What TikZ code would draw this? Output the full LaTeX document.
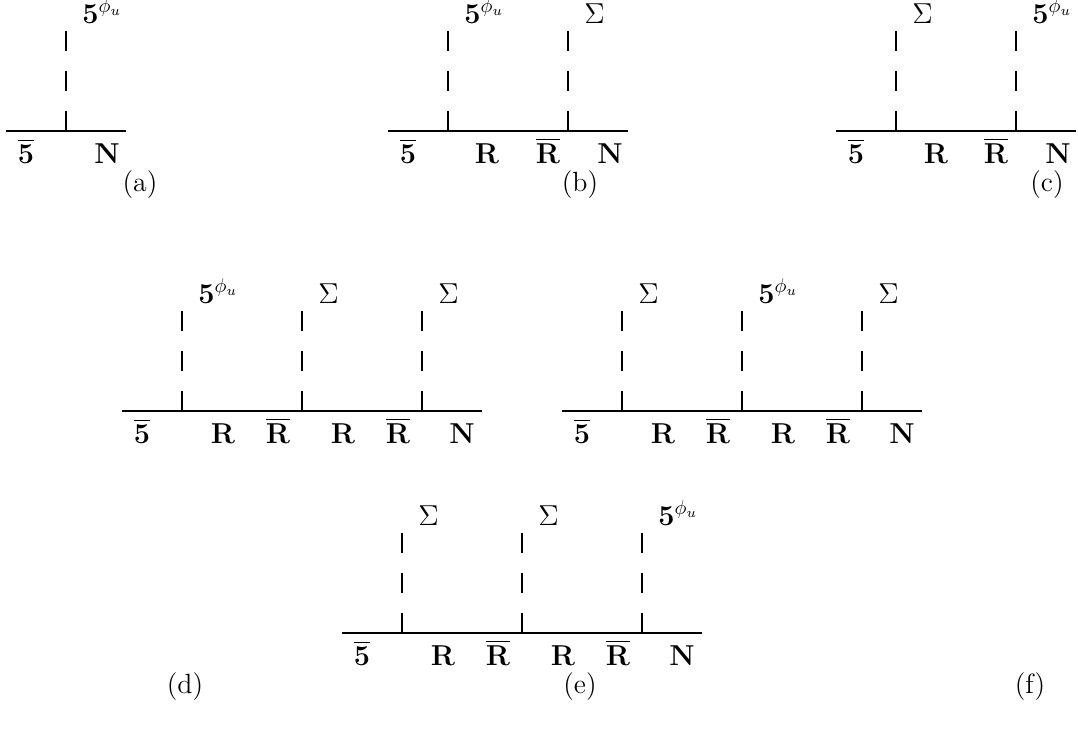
\documentclass[tikz,border=0pt]{standalone}
\usepackage{amsmath}
\begin{document}
\begin{tikzpicture}[x=0.5pt, y=-0.5pt, font=\fontsize{13.9}{16}\selectfont, line cap=butt,
  fermion/.style={line width=0.9pt},
  scalar/.style={line width=0.9pt, dash pattern=on 10pt off 10pt},
  ext/.style={anchor=base west, inner sep=0pt},
  lab/.style={anchor=base, inner sep=0pt},
  subcap/.style={inner sep=0pt}]
\useasboundingbox (0,0) rectangle (1078,734);

% (a) one insertion
\coordinate (a0) at (6,131);
\coordinate (a1) at (66,131);
\coordinate (a2) at (126,131);
\coordinate (at1) at (66,31);
\draw[fermion] (a0) -- (a1) -- (a2);
\draw[scalar] (a1) -- (at1);
\node[ext] (al1) at ([shift={(16,-8)}]at1) {$\mathbf{5}^{\phi_u}$};
\node[lab] (ab0) at (26,163) {$\overline{\mathbf{5}}$};
\node[lab] (ab1) at (107,163) {$\mathbf{N}$};
\node[subcap] (acap) at (140,185) {(a)};

% (b) two insertions
\coordinate (b0) at (388,131);
\coordinate (b3) at (628,131);
\foreach \n/\x/\t in {1/448/{\mathbf{5}^{\phi_u}},2/568/\Sigma} {
  \coordinate (b\n) at (\x,131);
  \coordinate (bt\n) at (\x,31);
  \draw[scalar] (b\n) -- (bt\n);
  \node[ext] (bl\n) at ([shift={(16,-8)}]bt\n) {$\t$};
}
\draw[fermion] (b0) -- (b1) -- (b2) -- (b3);
\foreach \n/\x/\t in {0/408/\overline{\mathbf{5}},1/487/\mathbf{R},2/548/\overline{\mathbf{R}},3/610/\mathbf{N}}
  \node[lab] (bb\n) at (\x,163) {$\t$};
\node[subcap] (bcap) at (580,185) {(b)};

% (c)
\coordinate (c0) at (836,131);
\coordinate (c3) at (1076,131);
\foreach \n/\x/\t in {1/896/\Sigma,2/1016/{\mathbf{5}^{\phi_u}}} {
  \coordinate (c\n) at (\x,131);
  \coordinate (ct\n) at (\x,31);
  \draw[scalar] (c\n) -- (ct\n);
  \node[ext] (cl\n) at ([shift={(16,-8)}]ct\n) {$\t$};
}
\draw[fermion] (c0) -- (c1) -- (c2) -- (c3);
\foreach \n/\x/\t in {0/856/\overline{\mathbf{5}},1/936/\mathbf{R},2/996/\overline{\mathbf{R}},3/1058/\mathbf{N}}
  \node[lab] (cb\n) at (\x,163) {$\t$};
\node[subcap] (ccap) at (1047,185) {(c)};

% (d) three insertions
\coordinate (d0) at (122,411);
\coordinate (d4) at (482,411);
\foreach \n/\x/\t in {1/182/{\mathbf{5}^{\phi_u}},2/302/\Sigma,3/422/\Sigma} {
  \coordinate (d\n) at (\x,411);
  \coordinate (dt\n) at (\x,311);
  \draw[scalar] (d\n) -- (dt\n);
  \node[ext] (dl\n) at ([shift={(16,-8)}]dt\n) {$\t$};
}
\draw[fermion] (d0) -- (d1) -- (d2) -- (d3) -- (d4);
\foreach \n/\x/\t in {0/142/\overline{\mathbf{5}},1/223/\mathbf{R},2/278/\overline{\mathbf{R}},3/343/\mathbf{R},4/398/\overline{\mathbf{R}},5/462/\mathbf{N}}
  \node[lab] (db\n) at (\x,443) {$\t$};

% (e)
\coordinate (e0) at (562,411);
\coordinate (e4) at (922,411);
\foreach \n/\x/\t in {1/622/\Sigma,2/742/{\mathbf{5}^{\phi_u}},3/862/\Sigma} {
  \coordinate (e\n) at (\x,411);
  \coordinate (et\n) at (\x,311);
  \draw[scalar] (e\n) -- (et\n);
  \node[ext] (el\n) at ([shift={(16,-8)}]et\n) {$\t$};
}
\draw[fermion] (e0) -- (e1) -- (e2) -- (e3) -- (e4);
\foreach \n/\x/\t in {0/582/\overline{\mathbf{5}},1/663/\mathbf{R},2/718/\overline{\mathbf{R}},3/783/\mathbf{R},4/838/\overline{\mathbf{R}},5/902/\mathbf{N}}
  \node[lab] (eb\n) at (\x,443) {$\t$};

% (f)
\coordinate (f0) at (342,633);
\coordinate (f4) at (702,633);
\foreach \n/\x/\t in {1/402/\Sigma,2/522/\Sigma,3/642/{\mathbf{5}^{\phi_u}}} {
  \coordinate (f\n) at (\x,633);
  \coordinate (ft\n) at (\x,533);
  \draw[scalar] (f\n) -- (ft\n);
  \node[ext] (fl\n) at ([shift={(16,-8)}]ft\n) {$\t$};
}
\draw[fermion] (f0) -- (f1) -- (f2) -- (f3) -- (f4);
\foreach \n/\x/\t in {0/362/\overline{\mathbf{5}},1/443/\mathbf{R},2/498/\overline{\mathbf{R}},3/563/\mathbf{R},4/618/\overline{\mathbf{R}},5/682/\mathbf{N}}
  \node[lab] (fb\n) at (\x,665) {$\t$};

% captions
\node[subcap] (dcap) at (185,687) {(d)};
\node[subcap] (ecap) at (580,687) {(e)};
\node[subcap] (fcap) at (1030,687) {(f)};
\end{tikzpicture}
\end{document}
